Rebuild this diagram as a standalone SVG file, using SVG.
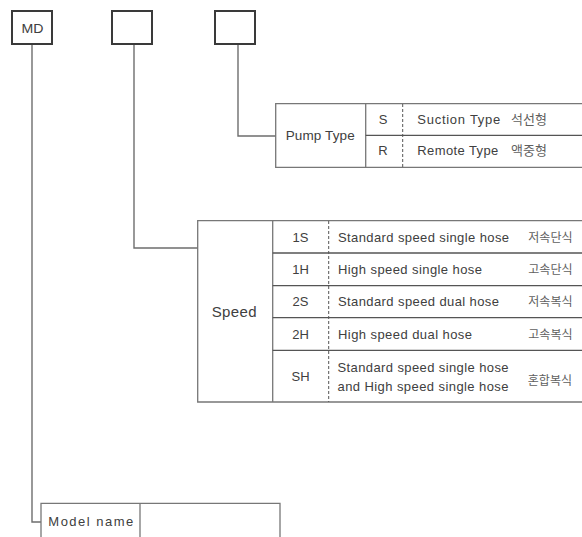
<svg xmlns="http://www.w3.org/2000/svg" width="582" height="537" viewBox="0 0 582 537">
<style>
.box{fill:#fff;stroke:#3a3a3a;stroke-width:2}
.conn{fill:none;stroke:#6e6e6e;stroke-width:1.4}
.tl{fill:none;stroke:#777;stroke-width:1.3}
.rl{fill:none;stroke:#555;stroke-width:1.3}
.dash{fill:none;stroke:#555;stroke-width:1;stroke-dasharray:3 2}
text{font-family:"Liberation Sans",Arial,"Noto Sans CJK KR",sans-serif;fill:#404040}
.d{font-size:13px}
.c{font-size:13px;text-anchor:middle}
.k{font-family:"Noto Sans CJK KR","Liberation Sans",sans-serif;font-size:12px;fill:#606060;text-anchor:end}
.kp{font-family:"Noto Sans CJK KR","Liberation Sans",sans-serif;font-size:13px;fill:#606060;text-anchor:end}
</style>
<rect width="582" height="537" fill="#fff"/>
<g id="connectors">
<polyline class="conn" points="32,44 32,522 41,522"/>
<polyline class="conn" points="134,44 134,248 198,248"/>
<polyline class="conn" points="238,44 238,136 276,136"/>
</g>
<g id="box-md">
<rect class="box" x="12" y="11" width="40" height="33"/>
<text x="21.5" y="32.5" font-size="13" textLength="22" lengthAdjust="spacingAndGlyphs">MD</text>
</g>
<g id="box-speed">
<rect class="box" x="112" y="11" width="40" height="33"/>
</g>
<g id="box-pump">
<rect class="box" x="215" y="11" width="40" height="33"/>
</g>
<g id="pump-type">
<polyline class="tl" points="582,103.7 275.7,103.7 275.7,167.3 582,167.3"/>
<line class="tl" x1="365.7" y1="103.7" x2="365.7" y2="167.3"/>
<line class="rl" x1="365.7" y1="135.3" x2="582" y2="135.3"/>
<line class="dash" x1="402.7" y1="104" x2="402.7" y2="167"/>
<text x="285.7" y="139.5" font-size="13.5" textLength="69" lengthAdjust="spacing">Pump Type</text>
<text class="c" x="383" y="124">S</text>
<text class="c" x="383" y="155">R</text>
<text class="d" x="417.3" y="124" textLength="83" lengthAdjust="spacing">Suction Type</text>
<text class="kp" x="547" y="124">석선형</text>
<text class="d" x="417.3" y="155" textLength="81" lengthAdjust="spacing">Remote Type</text>
<text class="kp" x="547" y="155">액중형</text>
</g>
<g id="speed">
<polyline class="tl" points="582,220.7 197.7,220.7 197.7,402 582,402"/>
<line class="tl" x1="272.7" y1="220.7" x2="272.7" y2="402"/>
<line class="rl" x1="272.7" y1="253" x2="582" y2="253"/>
<line class="rl" x1="272.7" y1="285.7" x2="582" y2="285.7"/>
<line class="rl" x1="272.7" y1="317.7" x2="582" y2="317.7"/>
<line class="rl" x1="272.7" y1="350.3" x2="582" y2="350.3"/>
<line class="dash" x1="328.7" y1="221" x2="328.7" y2="402"/>
<text x="211.7" y="316.5" font-size="15" textLength="45" lengthAdjust="spacing">Speed</text>
<text class="c" x="300.5" y="241.8">1S</text>
<text class="c" x="300.5" y="274.2">1H</text>
<text class="c" x="300.5" y="306.3">2S</text>
<text class="c" x="300.5" y="338.7">2H</text>
<text class="c" x="300.5" y="381">SH</text>
<text class="d" x="338" y="241.8" textLength="171" lengthAdjust="spacing">Standard speed single hose</text>
<text class="d" x="338" y="274.2" textLength="144" lengthAdjust="spacing">High speed single hose</text>
<text class="d" x="338" y="306.3" textLength="161" lengthAdjust="spacing">Standard speed dual hose</text>
<text class="d" x="338" y="338.7" textLength="134" lengthAdjust="spacing">High speed dual hose</text>
<text class="d" x="337.5" y="371.6" textLength="171" lengthAdjust="spacing">Standard speed single hose</text>
<text class="d" x="337.5" y="390.6" textLength="171" lengthAdjust="spacing">and High speed single hose</text>
<text class="k" x="572.5" y="241.8">저속단식</text>
<text class="k" x="572.5" y="274.2">고속단식</text>
<text class="k" x="572.5" y="306.3">저속복식</text>
<text class="k" x="572.5" y="338.7">고속복식</text>
<text class="k" x="572" y="385">혼합복식</text>
</g>
<g id="model-name">
<polyline class="tl" points="41,537 41,503.3 280,503.3 280,537"/>
<line class="tl" x1="140" y1="503.3" x2="140" y2="537"/>
<text x="48.3" y="525.7" font-size="13" textLength="85" lengthAdjust="spacing">Model name</text>
</g>
</svg>
